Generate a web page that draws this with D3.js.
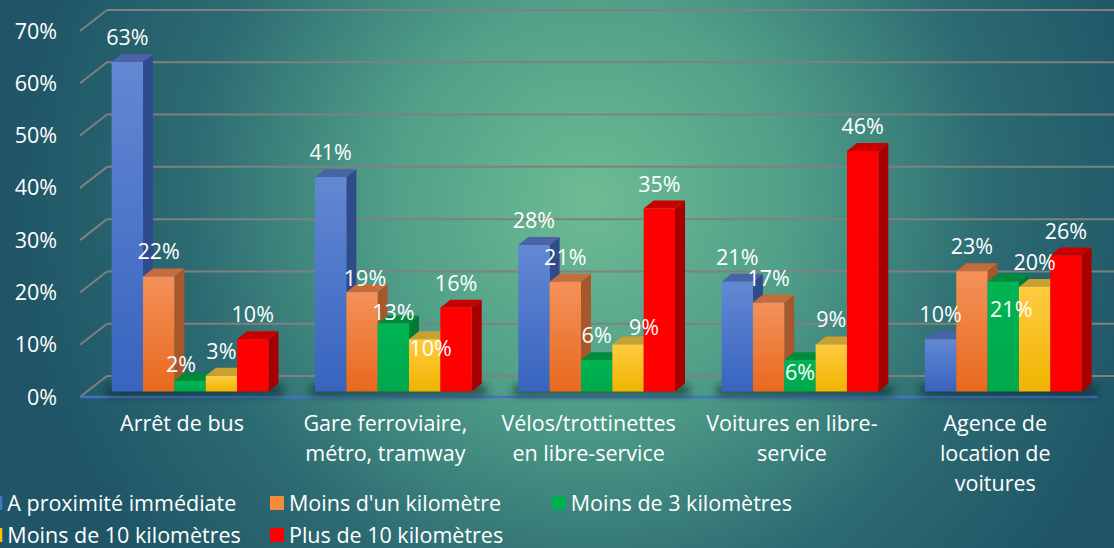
<!DOCTYPE html>
<html>
<head>
<meta charset="utf-8">
<script src="https://cdn.jsdelivr.net/npm/d3@7"></script>
<style>
  body { margin: 0; background: #1f5566; }
  svg { display: block; font-family: "Open Sans", sans-serif; }
</style>
</head>
<body>
<div id="chart"></div>
<script>
// chart data
let categories = ['Arrêt de bus', 'Gare ferroviaire, métro, tramway', 'Vélos/trottinettes en libre-service',
    'Voitures en libre-service', 'Agence de location de voitures'];
let categoryLines = [
    ['Arrêt de bus'],
    ['Gare ferroviaire,', 'métro, tramway'],
    ['Vélos/trottinettes', 'en libre-service'],
    ['Voitures en libre-', 'service'],
    ['Agence de', 'location de', 'voitures']
];
let series = ['A proximité immédiate', 'Moins d\'un kilomètre', 'Moins de 3 kilomètres',
    'Moins de 10 kilomètres', 'Plus de 10 kilomètres'];
let proximite = [0.63, 0.41, 0.28, 0.21, 0.10];
let moins1km = [0.22, 0.19, 0.21, 0.17, 0.23];
let moins3km = [0.02, 0.13, 0.06, 0.06, 0.21];
let moins10km = [0.03, 0.10, 0.09, 0.09, 0.20];
let plus10km = [0.10, 0.16, 0.35, 0.46, 0.26];
let yTicks = [0, 0.1, 0.2, 0.3, 0.4, 0.5, 0.6, 0.7];

let values = [proximite, moins1km, moins3km, moins10km, plus10km];

// colours per series: front top, front bottom, side, top face, legend
let colors = [
    {ft: '#6388d3', fb: '#3864bf', side: '#2f4b8c', top: '#4a62a6', key: '#4472c4'},
    {ft: '#f4915a', fb: '#e8691d', side: '#a6582c', top: '#c46c3e', key: '#f58b3c'},
    {ft: '#00b553', fb: '#00a84b', side: '#007a36', top: '#008a3c', key: '#00b050'},
    {ft: '#ffcb40', fb: '#f0b400', side: '#b08a20', top: '#c9a032', key: '#ffc000'},
    {ft: '#ff0000', fb: '#ff0000', side: '#a80000', top: '#c80000', key: '#ff0000'}
];

// label nudges where the labels would collide (group-series: [dx, dy])
let labelNudge = {
    '0-2': [-9, 8], '1-1': [3, 11], '1-2': [0, 13], '1-3': [6, 34],
    '2-3': [16, 8], '3-2': [0, 37], '4-2': [8, 52]
};

let svgwidth = 1114;
let svgheight = 548;
let fontSize = '21.5px';

// 3d geometry
let wallDx = 27, wallDy = 21;   // depth of floor/wall
let barDx = 10, barDy = 8;      // depth of one bar
let frontLeft = 80, frontBase = 397;
let barBase = 391.5;

let svg = d3.select('#chart').append('svg')
    .attr('width', svgwidth)
    .attr('height', svgheight);

let defs = svg.append('defs');

let bg = defs.append('radialGradient')
    .attr('id', 'bg')
    .attr('gradientUnits', 'userSpaceOnUse')
    .attr('cx', 590).attr('cy', 200).attr('r', 580);
bg.append('stop').attr('offset', 0).attr('stop-color', '#6dbc93');
bg.append('stop').attr('offset', 0.35).attr('stop-color', '#509f88');
bg.append('stop').attr('offset', 0.7).attr('stop-color', '#2c6a72');
bg.append('stop').attr('offset', 1).attr('stop-color', '#1f5566');

colors.forEach(function(c, i) {
    let g = defs.append('linearGradient')
        .attr('id', 'front' + i)
        .attr('x1', 0).attr('y1', 0).attr('x2', 0).attr('y2', 1);
    g.append('stop').attr('offset', 0).attr('stop-color', c.ft);
    g.append('stop').attr('offset', 1).attr('stop-color', c.fb);
});

defs.append('filter')
    .attr('id', 'blur')
    .attr('x', '-20%').attr('y', '-200%').attr('width', '140%').attr('height', '500%')
    .append('feGaussianBlur').attr('stdDeviation', 4);

svg.append('rect')
    .attr('width', svgwidth)
    .attr('height', svgheight)
    .attr('fill', 'url(#bg)');

// scales
let y = d3.scaleLinear()
    .domain([0, 0.7])
    .range([0, 366]);

let x0 = d3.scaleBand()
    .domain(categories)
    .range([88.4, 1104.9])
    .paddingInner(0.229)
    .paddingOuter(0.1145);

let x1 = d3.scaleBand()
    .domain(series)
    .range([0, x0.bandwidth()]);

// gridlines on back wall + slanted left wall
let grid = svg.append('g');
grid.selectAll('.back')
    .data(yTicks)
    .enter()
    .append('line')
    .attr('x1', frontLeft + wallDx)
    .attr('x2', svgwidth)
    .attr('y1', d => frontBase - wallDy - y(d))
    .attr('y2', d => frontBase - wallDy - y(d))
    .attr('stroke', '#7f8080')
    .attr('stroke-width', 2);

grid.selectAll('.slant')
    .data(yTicks)
    .enter()
    .append('line')
    .attr('x1', frontLeft)
    .attr('y1', d => frontBase - y(d))
    .attr('x2', frontLeft + wallDx)
    .attr('y2', d => frontBase - wallDy - y(d))
    .attr('stroke', '#7f8080')
    .attr('stroke-width', 2);

// tick labels
svg.append('g').selectAll('text')
    .data(yTicks)
    .enter()
    .append('text')
    .attr('x', 57)
    .attr('y', d => frontBase - y(d))
    .attr('dy', '0.35em')
    .attr('text-anchor', 'end')
    .attr('fill', '#ffffff')
    .attr('font-size', fontSize)
    .text(d => Math.round(d * 100) + '%');

// floor front edge
svg.append('line')
    .attr('x1', frontLeft)
    .attr('x2', 1097)
    .attr('y1', frontBase)
    .attr('y2', frontBase)
    .attr('stroke', '#4472c4')
    .attr('stroke-width', 2.5);

// shadows under the groups
svg.append('g').selectAll('rect')
    .data(categories)
    .enter()
    .append('rect')
    .attr('x', d => x0(d) - 4)
    .attr('y', barBase - 5)
    .attr('width', x0.bandwidth() + barDx + 8)
    .attr('height', 8)
    .attr('fill', '#0a1a1a')
    .attr('opacity', 0.75)
    .attr('filter', 'url(#blur)');

// bars
let bars = [];
categories.forEach(function(cat, gi) {
    series.forEach(function(s, si) {
        bars.push({gi: gi, si: si, cat: cat, s: s, v: values[si][gi]});
    });
});

let barGroup = svg.append('g');
let barSel = barGroup.selectAll('g')
    .data(bars)
    .enter()
    .append('g');

barSel.append('path')
    .attr('fill', d => colors[d.si].side)
    .attr('d', function(d) {
        let xr = x0(d.cat) + x1(d.s) + x1.bandwidth();
        let top = barBase - y(d.v);
        return `M${xr},${top}L${xr + barDx},${top - barDy}L${xr + barDx},${barBase - barDy}L${xr},${barBase}Z`;
    });

barSel.append('path')
    .attr('fill', d => colors[d.si].top)
    .attr('d', function(d) {
        let xl = x0(d.cat) + x1(d.s);
        let xr = xl + x1.bandwidth();
        let top = barBase - y(d.v);
        return `M${xl},${top}L${xl + barDx},${top - barDy}L${xr + barDx},${top - barDy}L${xr},${top}Z`;
    });

barSel.append('rect')
    .attr('x', d => x0(d.cat) + x1(d.s))
    .attr('y', d => barBase - y(d.v))
    .attr('width', x1.bandwidth())
    .attr('height', d => y(d.v))
    .attr('fill', d => `url(#front${d.si})`);

// data labels
svg.append('g').selectAll('text')
    .data(bars)
    .enter()
    .append('text')
    .attr('x', function(d) {
        let n = labelNudge[d.gi + '-' + d.si];
        return x0(d.cat) + x1(d.s) + x1.bandwidth() / 2 + (n ? n[0] : 0);
    })
    .attr('y', function(d) {
        let n = labelNudge[d.gi + '-' + d.si];
        return barBase - y(d.v) - 17 + (n ? n[1] : 0);
    })
    .attr('text-anchor', 'middle')
    .attr('fill', '#ffffff')
    .attr('font-size', fontSize)
    .text(d => Math.round(d.v * 100) + '%');

// category labels
let catLabels = svg.append('g').selectAll('text')
    .data(categories)
    .enter()
    .append('text')
    .attr('x', d => x0(d) + x0.bandwidth() / 2 - 8)
    .attr('y', 431)
    .attr('text-anchor', 'middle')
    .attr('fill', '#ffffff')
    .attr('font-size', fontSize);

catLabels.selectAll('tspan')
    .data((d, i) => categoryLines[i])
    .enter()
    .append('tspan')
    .attr('x', function() { return d3.select(this.parentNode).attr('x'); })
    .attr('dy', (d, i) => i === 0 ? 0 : 30)
    .text(d => d);

// legend
let legendX = d3.scalePoint()
    .domain([0, 1, 2])
    .range([-11.7, 551.7]);

let legend = svg.append('g').selectAll('g')
    .data(series)
    .enter()
    .append('g')
    .attr('transform', (d, i) => `translate(${legendX(i % 3)}, ${i < 3 ? 503 : 535})`);

legend.append('rect')
    .attr('x', 0)
    .attr('y', -7)
    .attr('width', 14)
    .attr('height', 14)
    .attr('fill', (d, i) => colors[i].key);

legend.append('text')
    .attr('x', 19)
    .attr('y', 0)
    .attr('dy', '0.35em')
    .attr('fill', '#ffffff')
    .attr('font-size', fontSize)
    .text(d => d);
</script>
</body>
</html>
